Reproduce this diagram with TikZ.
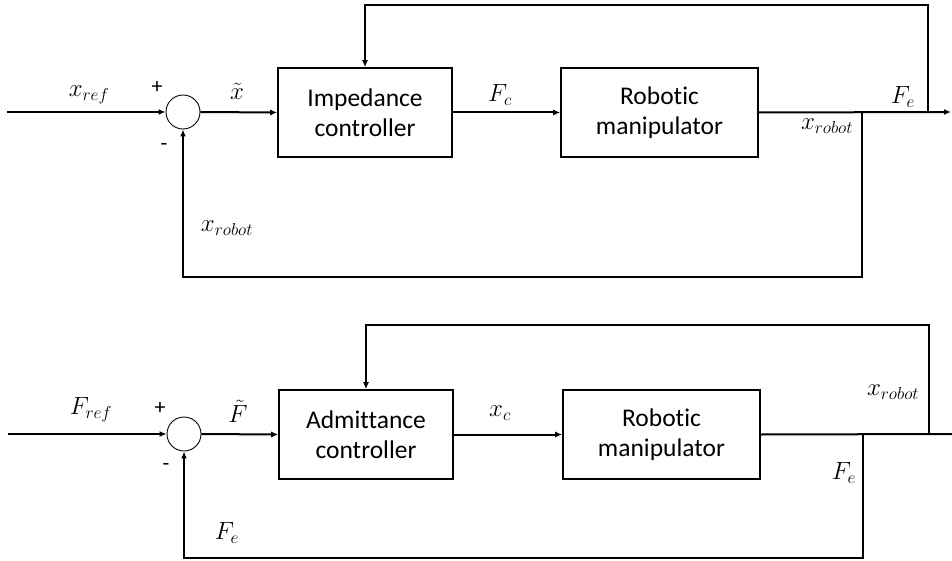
\documentclass[tikz,border=0pt]{standalone}
\usepackage{fontspec}
\setsansfont{Carlito}[Ligatures=NoCommon]
\usetikzlibrary{arrows.meta}
\DeclareMathSizes{25}{25}{19}{14}
\tikzset{
  blk/.style={draw=black, line width=1.6pt, fill=white, minimum height=89pt, align=center,
    font=\sffamily\fontsize{25.5}{30}\selectfont, inner sep=0pt},
  sumnode/.style={draw=black, line width=0.9pt, circle, minimum size=34pt, inner sep=0pt},
  wire/.style={line width=2pt, black},
  arr/.style={wire, -{Latex[length=7pt,width=6pt]}},
  lab/.style={font=\fontsize{25}{28}\selectfont, inner sep=0pt},
  sgn/.style={font=\sffamily\fontsize{22}{24}\selectfont, inner sep=0pt}
}
\begin{document}
\begin{tikzpicture}[x=1pt,y=-1pt]
\useasboundingbox (0,0) rectangle (952,561);
% ---------- top: impedance control ----------
\node[sumnode] (s1) at (183,112) {};
\node[blk, minimum width=174pt] (imp) at (365,112.5) {Impedance\\controller};
\node[blk, minimum width=197pt] (rob1) at (659.5,112.5) {Robotic\\manipulator};
\coordinate (in1) at (7,112);
\coordinate (out1) at (951,112);
\coordinate (bu1) at (928,112);
\coordinate (bd1) at (862,112);
\coordinate (tu1) at (928,5);
\coordinate (tl1) at (365,5);
\coordinate (dr1) at (862,277);
\coordinate (dl1) at (183,277);
\draw[arr] (in1) -- (s1.west);
\draw[arr] (s1.east) -- (imp.west);
\draw[arr] (imp.east) -- (rob1.west);
\draw[arr] (rob1.east) -- (out1);
\draw[arr] (bu1) -- (tu1) -- (tl1) -- (imp.north);
\draw[arr] (bd1) -- (dr1) -- (dl1) -- (s1.south);
\node[lab] (l1) at (89,95) {$x_{ref}$};
\node[sgn] (p1) at (157,87) {+};
\node[sgn] (m1) at (164,147) {-};
\node[lab] (l2) at (237,91) {$\tilde{x}$};
\node[lab] (l3) at (500,95) {$F_c$};
\node[lab] (l4) at (903,97) {$F_e$};
\node[lab] (l5) at (827,126) {$x_{robot}$};
\node[lab] (l6) at (227,228) {$x_{robot}$};
% ---------- bottom: admittance control ----------
\node[sumnode] (s2) at (184,434) {};
\node[blk, minimum width=174pt] (adm) at (366,434.5) {Admittance\\controller};
\node[blk, minimum width=197pt] (rob2) at (661.5,434.5) {Robotic\\manipulator};
\coordinate (in2) at (8,434);
\coordinate (out2) at (952,434);
\coordinate (bu2) at (929,434);
\coordinate (bd2) at (863,434);
\coordinate (tu2) at (929,325);
\coordinate (tl2) at (366,325);
\coordinate (dr2) at (863,558);
\coordinate (dl2) at (184,558);
\draw[arr] (in2) -- (s2.west);
\draw[arr] (s2.east) -- (adm.west);
\draw[arr] (adm.east) -- (rob2.west);
\draw[wire] (rob2.east) -- (out2);
\draw[arr] (bu2) -- (tu2) -- (tl2) -- (adm.north);
\draw[arr] (bd2) -- (dr2) -- (dl2) -- (s2.south);
\node[lab] (k1) at (91,410) {$F_{ref}$};
\node[sgn] (p2) at (160,408) {+};
\node[sgn] (m2) at (166,467) {-};
\node[lab] (k2) at (238,411) {$\tilde{F}$};
\node[lab] (k3) at (500,413) {$x_c$};
\node[lab] (k4) at (893,392) {$x_{robot}$};
\node[lab] (k5) at (844,473) {$F_e$};
\node[lab] (k6) at (227,533) {$F_e$};
\end{tikzpicture}
\end{document}
